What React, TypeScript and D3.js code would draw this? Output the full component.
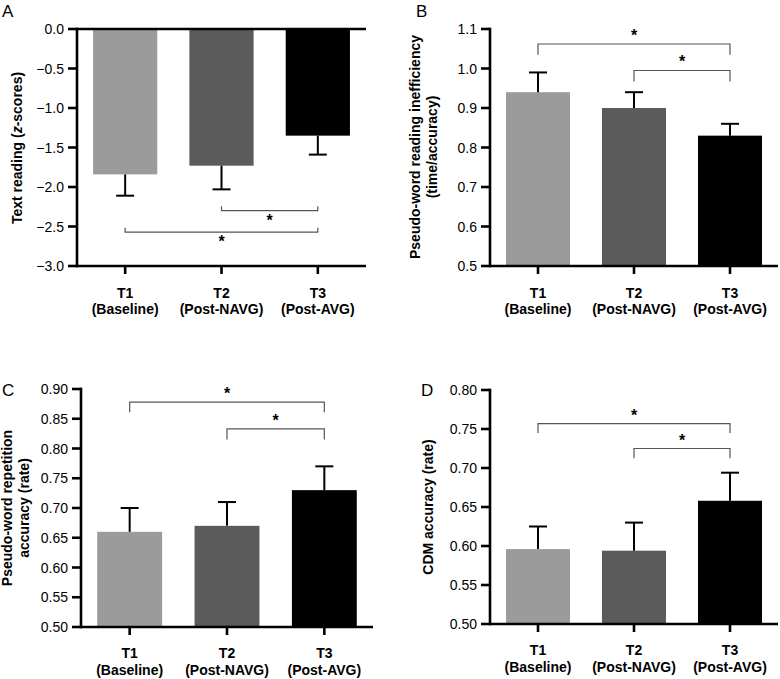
import React from "react";
import * as d3 from "d3";

const categories = ["T1", "T2", "T3"];
const sublabels = ["(Baseline)", "(Post-NAVG)", "(Post-AVG)"];
const barColors = ["#9b9b9b", "#5b5b5b", "#000000"];

// Panel A: Text reading (z-scores)
const textReadingMeans = [-1.84, -1.73, -1.35];
const textReadingErrEnds = [-2.11, -2.03, -1.59];
const textReadingTicks = [0, -0.5, -1.0, -1.5, -2.0, -2.5, -3.0];
// brackets: [fromIndex, toIndex, level, tickEnd]
const textReadingBrackets = [
  [1, 2, -2.3, -2.245],
  [0, 2, -2.57, -2.515],
];

// Panel B: Pseudo-word reading inefficiency
const pwReadMeans = [0.94, 0.9, 0.83];
const pwReadErrEnds = [0.99, 0.94, 0.86];
const pwReadTicks = [0.5, 0.6, 0.7, 0.8, 0.9, 1.0, 1.1];
const pwReadBrackets = [
  [0, 2, 1.062, 1.035],
  [1, 2, 0.995, 0.967],
];

// Panel C: Pseudo-word repetition accuracy
const pwRepMeans = [0.66, 0.67, 0.73];
const pwRepErrEnds = [0.7, 0.71, 0.77];
const pwRepTicks = [0.5, 0.55, 0.6, 0.65, 0.7, 0.75, 0.8, 0.85, 0.9];
const pwRepBrackets = [
  [0, 2, 0.878, 0.861],
  [1, 2, 0.833, 0.815],
];

// Panel D: CDM accuracy
const cdmMeans = [0.596, 0.594, 0.658];
const cdmErrEnds = [0.625, 0.63, 0.694];
const cdmTicks = [0.5, 0.55, 0.6, 0.65, 0.7, 0.75, 0.8];
const cdmBrackets = [
  [0, 2, 0.757, 0.745],
  [1, 2, 0.725, 0.7125],
];

const FONT = "'Liberation Sans', Arial, Helvetica, sans-serif";

type PanelProps = {
  letter: string;
  letterX: number;
  letterY: number;
  x0: number;
  x1: number;
  yTop: number;
  yBot: number;
  domain: [number, number];
  baseline: number;
  ticks: number[];
  fmt: (v: number) => string;
  means: number[];
  errEnds: number[];
  brackets: number[][];
  starBelow: boolean;
  yLabel: string[];
  yLabelX: number[];
  yLabelCY: number;
  xLab1: number;
  xLab2: number;
};

function Panel(p: PanelProps) {
  const x = d3
    .scaleBand<string>()
    .domain(categories)
    .range([p.x0, p.x1])
    .paddingInner(1 / 3)
    .paddingOuter(1 / 6);
  const y = d3.scaleLinear().domain(p.domain).range([p.yBot, p.yTop]);
  const cx = (i: number) => (x(categories[i]) as number) + x.bandwidth() / 2;
  const axisW = 2.6;
  const base = y(p.baseline);
  return (
    <g fontFamily={FONT}>
      <text x={p.letterX} y={p.letterY} fontSize={17}>
        {p.letter}
      </text>
      {/* bars */}
      {p.means.map((m, i) => (
        <rect
          key={"b" + i}
          x={x(categories[i])}
          width={x.bandwidth()}
          y={Math.min(y(m), base)}
          height={Math.abs(y(m) - base)}
          fill={barColors[i]}
        />
      ))}
      {/* error bars */}
      {p.means.map((m, i) => (
        <g key={"e" + i} stroke="#000" strokeWidth={2}>
          <line x1={cx(i)} x2={cx(i)} y1={y(m)} y2={y(p.errEnds[i])} />
          <line x1={cx(i) - 9} x2={cx(i) + 9} y1={y(p.errEnds[i])} y2={y(p.errEnds[i])} />
        </g>
      ))}
      {/* brackets */}
      {p.brackets.map((b, k) => {
        const xa = cx(b[0]);
        const xb = cx(b[1]);
        const yl = y(b[2]);
        const yt = y(b[3]);
        return (
          <g key={"k" + k}>
            <path
              d={`M${xa},${yt}V${yl}H${xb}V${yt}`}
              fill="none"
              stroke="#555"
              strokeWidth={1.2}
            />
            <text
              x={(xa + xb) / 2}
              y={p.starBelow ? yl + 15 : yl - 3}
              textAnchor="middle"
              fontSize={16}
              fontWeight="bold"
            >
              *
            </text>
          </g>
        );
      })}
      {/* baseline at zero for negative panel */}
      {p.baseline !== p.domain[0] && (
        <line x1={p.x0} x2={p.x1} y1={base} y2={base} stroke="#000" strokeWidth={axisW} />
      )}
      {/* y axis */}
      <line x1={p.x0} x2={p.x0} y1={p.yTop - axisW / 2} y2={p.yBot + axisW / 2} stroke="#000" strokeWidth={axisW} />
      {p.ticks.map((t) => (
        <g key={"t" + t}>
          <line x1={p.x0 - 9} x2={p.x0} y1={y(t)} y2={y(t)} stroke="#000" strokeWidth={axisW} />
          <text x={p.x0 - 13} y={y(t)} dy="0.36em" textAnchor="end" fontSize={14}>
            {p.fmt(t)}
          </text>
        </g>
      ))}
      {/* x axis */}
      <line x1={p.x0} x2={p.x1} y1={p.yBot} y2={p.yBot} stroke="#000" strokeWidth={axisW} />
      {categories.map((c, i) => (
        <g key={"x" + i}>
          <line x1={cx(i)} x2={cx(i)} y1={p.yBot} y2={p.yBot + 8} stroke="#000" strokeWidth={axisW} />
          <text x={cx(i)} y={p.xLab1} textAnchor="middle" fontSize={14} fontWeight="bold">
            {c}
          </text>
          <text x={cx(i)} y={p.xLab2} textAnchor="middle" fontSize={14} fontWeight="bold">
            {sublabels[i]}
          </text>
        </g>
      ))}
      {/* y label */}
      {p.yLabel.map((l, j) => (
        <text
          key={"yl" + j}
          transform={`translate(${p.yLabelX[j]},${p.yLabelCY}) rotate(-90)`}
          textAnchor="middle"
          dy="0.36em"
          fontSize={14}
          fontWeight="bold"
        >
          {l.includes("z-scores") ? (
            <>
              Text reading (<tspan fontStyle="italic">z</tspan>-scores)
            </>
          ) : (
            l
          )}
        </text>
      ))}
    </g>
  );
}

export default function App() {
  const f1 = d3.format(".1f");
  const f2 = d3.format(".2f");
  return (
    <svg
      width={780}
      height={679}
      style={{ position: "absolute", left: 0, top: 0, background: "#fff" }}
    >
      <rect width={780} height={679} fill="#fff" />
      <Panel
        letter="A"
        letterX={2}
        letterY={17}
        x0={77}
        x1={366}
        yTop={29}
        yBot={266}
        domain={[-3, 0]}
        baseline={0}
        ticks={textReadingTicks}
        fmt={f1}
        means={textReadingMeans}
        errEnds={textReadingErrEnds}
        brackets={textReadingBrackets}
        starBelow={true}
        yLabel={["Text reading (z-scores)"]}
        yLabelX={[17]}
        yLabelCY={148}
        xLab1={298}
        xLab2={314}
      />
      <Panel
        letter="B"
        letterX={416}
        letterY={17}
        x0={490}
        x1={778}
        yTop={29}
        yBot={266}
        domain={[0.5, 1.1]}
        baseline={0.5}
        ticks={pwReadTicks}
        fmt={f1}
        means={pwReadMeans}
        errEnds={pwReadErrEnds}
        brackets={pwReadBrackets}
        starBelow={false}
        yLabel={["Pseudo-word reading inefficiency", "(time/accuracy)"]}
        yLabelX={[415, 432]}
        yLabelCY={147}
        xLab1={298}
        xLab2={314}
      />
      <Panel
        letter="C"
        letterX={2}
        letterY={396}
        x0={81}
        x1={373}
        yTop={389}
        yBot={627}
        domain={[0.5, 0.9]}
        baseline={0.5}
        ticks={pwRepTicks}
        fmt={f2}
        means={pwRepMeans}
        errEnds={pwRepErrEnds}
        brackets={pwRepBrackets}
        starBelow={false}
        yLabel={["Pseudo-word repetition", "accuracy (rate)"]}
        yLabelX={[7, 24]}
        yLabelCY={508}
        xLab1={658}
        xLab2={675}
      />
      <Panel
        letter="D"
        letterX={421}
        letterY={396}
        x0={490}
        x1={778}
        yTop={390}
        yBot={624}
        domain={[0.5, 0.8]}
        baseline={0.5}
        ticks={cdmTicks}
        fmt={f2}
        means={cdmMeans}
        errEnds={cdmErrEnds}
        brackets={cdmBrackets}
        starBelow={false}
        yLabel={["CDM accuracy (rate)"]}
        yLabelX={[428]}
        yLabelCY={507}
        xLab1={655}
        xLab2={672}
      />
    </svg>
  );
}
